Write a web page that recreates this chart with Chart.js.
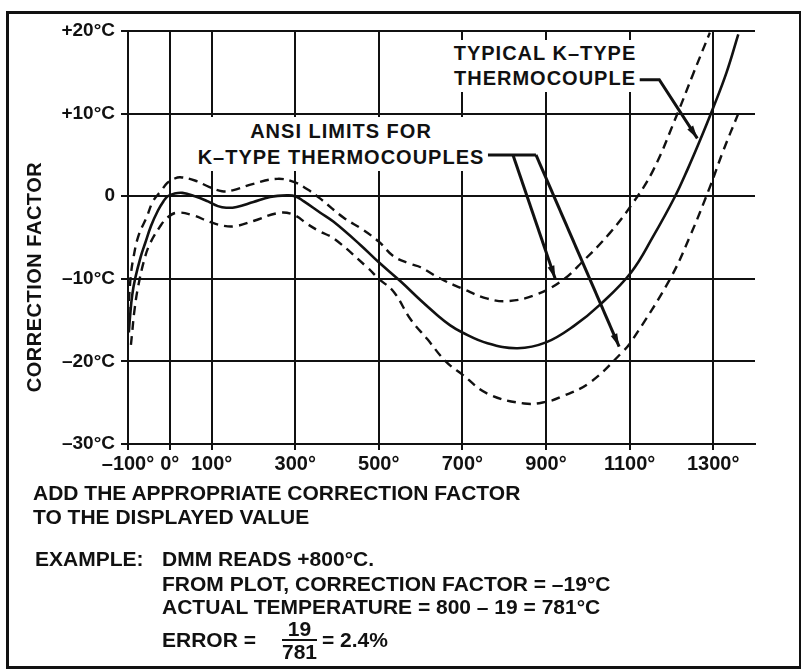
<!DOCTYPE html>
<html>
<head>
<meta charset="utf-8">
<script src="https://cdn.jsdelivr.net/npm/chart.js@4.4.0/dist/chart.umd.min.js"></script>
<style>
body { margin: 0; background: #fff; }
#wrap { position: relative; width: 806px; height: 671px; overflow: hidden;
        font-family: "Liberation Sans", Arial, Helvetica, sans-serif; font-weight: bold; color: #111; }
#chart { position: absolute; left: 0; top: 0; }
.frame { position: absolute; left: 6px; top: 11px; width: 790px; height: 652px;
         border: 3px solid #111; border-right-width: 2px; }
.t { position: absolute; white-space: nowrap; line-height: 1; font-size: 21px; }
.note { position: absolute; text-align: center; white-space: nowrap; background: #fff;
        font-size: 20px; letter-spacing: 1px; padding: 1px 3px; transform: translateX(-50%); }
.ytitle { position: absolute; left: 34px; top: 277px; white-space: nowrap; font-size: 20px;
          letter-spacing: 0.5px; transform: translate(-50%, -50%) rotate(-90deg); }
.frac { position: absolute; left: 282px; top: 619px; display: flex; flex-direction: column;
        align-items: center; font-size: 21px; }
.frac span { line-height: 20px; }
.frac .den { border-top: 2px solid #111; padding-top: 1px; }
</style>
</head>
<body>
<div id="wrap">
  <canvas id="chart" width="806" height="671"></canvas>
  <div class="frame"></div>
  <div class="ytitle">CORRECTION FACTOR</div>
  <div class="note" style="left:545px; top:40px; line-height:25px;">TYPICAL K–TYPE<br>THERMOCOUPLE</div>
  <div class="note" style="left:341px; top:117px; line-height:26px;">ANSI LIMITS FOR<br>K–TYPE THERMOCOUPLES</div>

  <div class="t" style="left:33px; top:482px;">ADD THE APPROPRIATE CORRECTION FACTOR</div>
  <div class="t" style="left:33px; top:506px;">TO THE DISPLAYED VALUE</div>
  <div class="t" style="left:35px; top:548px;">EXAMPLE:</div>
  <div class="t" style="left:162px; top:548px;">DMM READS +800°C.</div>
  <div class="t" style="left:162px; top:573px;">FROM PLOT, CORRECTION FACTOR = –19°C</div>
  <div class="t" style="left:162px; top:596px;">ACTUAL TEMPERATURE = 800 – 19 = 781°C</div>
  <div class="t" style="left:162px; top:629px;">ERROR =</div>
  <div class="frac"><span>19</span><span class="den">781</span></div>
  <div class="t" style="left:322px; top:629px;">= 2.4%</div>
</div>
<script>
'use strict';

// temperature (°C) / correction (°C)
var typicalTemp = [-98, -95, -90, -83, -70, -59, -45, -28, -15, -5, 10, 30, 60, 90, 115, 135, 160, 200, 240, 280, 300, 320, 360, 392, 456, 500, 552, 600, 640, 670, 700, 760, 832, 900, 967, 1032, 1104, 1156, 1208, 1240, 1268, 1300, 1332, 1360];
var typicalCorr = [-16.5, -14.5, -12, -10, -7.4, -5.7, -3.6, -1.7, -0.6, 0, 0.3, 0.4, 0.0, -0.6, -1.2, -1.4, -1.3, -0.7, -0.1, 0.1, 0, -0.6, -2.0, -3.1, -5.9, -8.0, -10.3, -12.6, -14.4, -15.6, -16.5, -17.8, -18.4, -17.7, -15.7, -13.0, -9.2, -4.9, -0.1, 3.4, 6.7, 10.7, 15.0, 19.6];

var upperTemp = [-100, -97, -93, -88, -75, -55, -40, -20, -6, 10, 25, 60, 95, 125, 150, 200, 257, 298, 330, 360, 416, 460, 500, 536, 576, 600, 648, 700, 760, 808, 872, 936, 988, 1052, 1104, 1156, 1216, 1252, 1292];
var upperCorr = [-14.5, -12, -9.5, -7.7, -4.8, -2.5, -0.6, 0.7, 1.6, 2.1, 2.3, 1.9, 1.1, 0.6, 0.7, 1.5, 2.1, 1.7, 0.8, -0.3, -2.6, -4.0, -5.5, -7.3, -8.2, -8.6, -10.0, -11.2, -12.4, -12.7, -12.0, -10.3, -7.9, -4.5, -1.1, 3.1, 10.2, 14.8, 19.8];

var lowerTemp = [-93, -90, -85, -76, -60, -47, -25, -6, 17, 55, 95, 130, 160, 200, 264, 298, 330, 360, 392, 472, 500, 536, 576, 616, 660, 700, 760, 848, 900, 936, 1004, 1084, 1108, 1196, 1244, 1292, 1324, 1360];
var lowerCorr = [-18, -16.5, -14, -11, -7.5, -5.7, -3.8, -2.6, -2.0, -2.3, -3.1, -3.6, -3.6, -3.0, -2.0, -2.3, -3.4, -4.3, -5.1, -8.6, -10.0, -11.6, -14.9, -17.3, -20.0, -21.6, -23.9, -25.1, -24.9, -24.3, -22.6, -18.8, -17.3, -10.1, -4.9, 1.1, 5.5, 10.0];

var xTickValues = [-100, 0, 100, 300, 500, 700, 900, 1100, 1300];
var xTickLabels = ['–100°', '0°', '100°', '300°', '500°', '700°', '900°', '1100°', '1300°'];
var yTickValues = [-30, -20, -10, 0, 10, 20];
var yTickLabels = ['–30°C', '–20°C', '–10°C', '0', '+10°C', '+20°C'];

// leader lines in data units, last point of an arrow path is its tip
var typicalLeader = [[1120, 14.1], [1171, 14.1], [1262, 7.0]];
var ansiBar = [[761, 5.0], [876, 5.0]];
var ansiLeaderA = [[821, 5.0], [922, -10.0]];
var ansiLeaderB = [[876, 5.0], [1075, -18.2]];

var FONT = '"Liberation Sans", Arial, Helvetica, sans-serif';
var INK = '#111';

function pts(xs, ys) {
    return xs.map(function(x, i) { return { x: x, y: ys[i] }; });
}

var leaderPlugin = {
    id: 'leaders',
    afterDatasetsDraw: function(chart) {
        var ctx = chart.ctx;
        var sx = chart.scales.x, sy = chart.scales.y;
        function px(p) { return [sx.getPixelForValue(p[0]), sy.getPixelForValue(p[1])]; }

        function path(list, arrow) {
            var p = list.map(px);
            ctx.beginPath();
            ctx.moveTo(p[0][0], p[0][1]);
            for (var i = 1; i < p.length; i++) ctx.lineTo(p[i][0], p[i][1]);
            ctx.stroke();
            if (!arrow) return;
            var a = p[p.length - 2], b = p[p.length - 1];
            var ang = Math.atan2(b[1] - a[1], b[0] - a[0]);
            var len = 13, half = 3.5;
            ctx.beginPath();
            ctx.moveTo(b[0], b[1]);
            ctx.lineTo(b[0] - len * Math.cos(ang) + half * Math.sin(ang), b[1] - len * Math.sin(ang) - half * Math.cos(ang));
            ctx.lineTo(b[0] - len * Math.cos(ang) - half * Math.sin(ang), b[1] - len * Math.sin(ang) + half * Math.cos(ang));
            ctx.closePath();
            ctx.fill();
        }

        ctx.save();
        ctx.strokeStyle = INK;
        ctx.fillStyle = INK;
        ctx.lineWidth = 3;
        ctx.lineJoin = 'miter';
        path(typicalLeader, true);
        path(ansiBar, false);
        path(ansiLeaderA, true);
        path(ansiLeaderB, true);
        ctx.restore();
    }
};

var ctx = document.getElementById('chart').getContext('2d');
var chart = new Chart(ctx, {
    type: 'line',
    data: {
        datasets: [{
            label: 'Typical K-type thermocouple',
            data: pts(typicalTemp, typicalCorr),
            borderColor: INK,
            borderWidth: 2.6,
            tension: 0.4
        }, {
            label: 'ANSI limit (upper)',
            data: pts(upperTemp, upperCorr),
            borderColor: INK,
            borderWidth: 2.4,
            borderDash: [9, 6],
            tension: 0.4
        }, {
            label: 'ANSI limit (lower)',
            data: pts(lowerTemp, lowerCorr),
            borderColor: INK,
            borderWidth: 2.4,
            borderDash: [9, 6],
            tension: 0.4
        }]
    },
    options: {
        responsive: false,
        animation: false,
        devicePixelRatio: 1,
        layout: { padding: { left: 0, top: 31, right: 51, bottom: 197 } },
        elements: {
            point: { radius: 0 },
            line: { fill: false }
        },
        plugins: {
            legend: { display: false },
            tooltip: { enabled: false }
        },
        scales: {
            x: {
                type: 'linear',
                min: -100,
                max: 1400,
                afterBuildTicks: function(axis) {
                    axis.ticks = xTickValues.map(function(v) { return { value: v }; });
                },
                afterFit: function(axis) { axis.height = 30; },
                ticks: {
                    autoSkip: false,
                    maxRotation: 0,
                    padding: 2,
                    color: INK,
                    font: { family: FONT, size: 20, weight: 'bold' },
                    callback: function(value, index) { return xTickLabels[index]; }
                },
                grid: { color: INK, lineWidth: 2, tickLength: 6 },
                border: { color: INK, width: 2 }
            },
            y: {
                min: -30,
                max: 20,
                afterBuildTicks: function(axis) {
                    axis.ticks = yTickValues.map(function(v) { return { value: v }; });
                },
                afterFit: function(axis) { axis.width = 128; },
                ticks: {
                    padding: 6,
                    color: INK,
                    font: { family: FONT, size: 19, weight: 'bold' },
                    callback: function(value, index) { return yTickLabels[index]; }
                },
                grid: { color: INK, lineWidth: 2, tickLength: 7 },
                border: { color: INK, width: 2 }
            }
        }
    },
    plugins: [leaderPlugin]
});
</script>
</body>
</html>
